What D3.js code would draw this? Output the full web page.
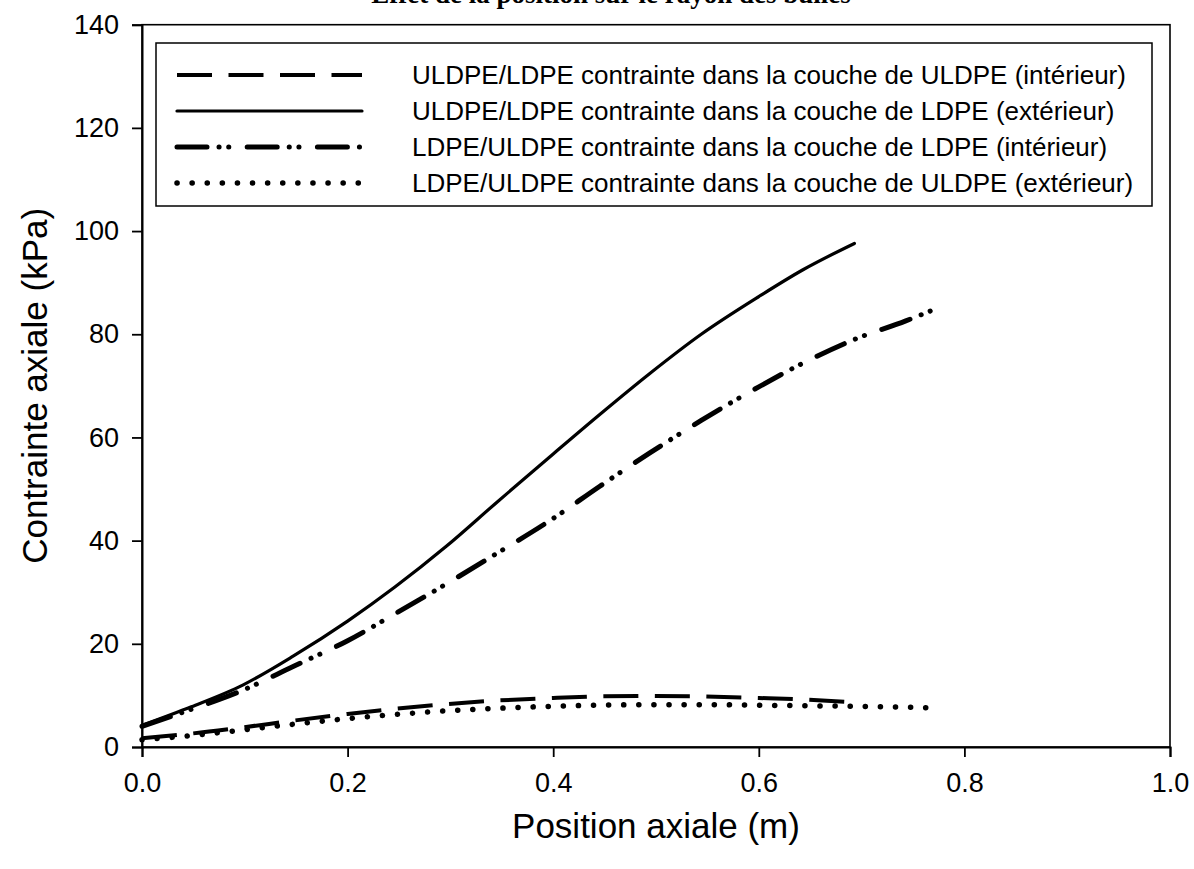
<!DOCTYPE html>
<html><head><meta charset="utf-8">
<script src="https://cdn.jsdelivr.net/npm/d3@7"></script>
<style>body{margin:0;background:#fff}svg{display:block}text{font-family:"Liberation Sans",Arial,sans-serif}</style>
</head><body><svg id="c" width="1194" height="869"></svg>
<script>
const title = "Effet de la position sur le rayon des bulles";
const xLabel = "Position axiale (m)";
const yLabel = "Contrainte axiale (kPa)";
const xTicks = [0, 0.2, 0.4, 0.6, 0.8, 1.0];
const yTicks = [0, 20, 40, 60, 80, 100, 120, 140];
const seriesNames = [
  "ULDPE/LDPE contrainte dans la couche de ULDPE (intérieur)",
  "ULDPE/LDPE contrainte dans la couche de LDPE (extérieur)",
  "LDPE/ULDPE contrainte dans la couche de LDPE (intérieur)",
  "LDPE/ULDPE contrainte dans la couche de ULDPE (extérieur)"
];
const xDashed = [0, 0.048, 0.098, 0.147, 0.2, 0.246, 0.296, 0.345, 0.4, 0.445, 0.494, 0.544, 0.6, 0.643, 0.688];
const yDashed = [1.7, 2.6, 3.8, 5.1, 6.4, 7.4, 8.3, 9.0, 9.5, 9.8, 9.9, 9.8, 9.5, 9.2, 8.7];
const xSolid = [0, 0.048, 0.098, 0.147, 0.2, 0.246, 0.296, 0.345, 0.4, 0.445, 0.494, 0.544, 0.6, 0.643, 0.693];
const ySolid = [4.2, 7.8, 12.0, 17.6, 24.4, 31.0, 38.9, 47.4, 56.8, 64.4, 72.4, 80.0, 87.3, 92.5, 97.6];
const xDashDot = [0, 0.048, 0.098, 0.147, 0.2, 0.246, 0.296, 0.345, 0.4, 0.445, 0.494, 0.544, 0.6, 0.643, 0.693, 0.743, 0.768];
const yDashDot = [4.0, 7.3, 11.0, 15.6, 20.6, 25.8, 31.6, 37.5, 44.3, 50.5, 57.0, 63.3, 69.8, 74.4, 79.0, 82.6, 84.6];
const xDotted = [0, 0.048, 0.098, 0.147, 0.2, 0.246, 0.296, 0.345, 0.4, 0.445, 0.494, 0.544, 0.6, 0.643, 0.693, 0.768];
const yDotted = [1.4, 2.2, 3.3, 4.4, 5.5, 6.3, 7.0, 7.5, 7.9, 8.1, 8.2, 8.2, 8.1, 8.0, 7.9, 7.6];

const styles = [
  {w: 4, dash: "35,16.5", cap: "butt"},
  {w: 3.2, dash: null, cap: "round"},
  {w: 5, dash: "30,12,0.1,9.6,0.1,18.4", cap: "round"},
  {w: 5.5, dash: "0.1,15", cap: "round"}
];
const series = [
  {xs: xDashed, ys: yDashed},
  {xs: xSolid, ys: ySolid},
  {xs: xDashDot, ys: yDashDot},
  {xs: xDotted, ys: yDotted}
];

const svg = d3.select("#c");
const x = d3.scaleLinear().domain([0, 1]).range([142, 1170]);
const y = d3.scaleLinear().domain([0, 140]).range([747, 24.7]);

// title (cut off at the top edge as in the original)
svg.append("text").attr("x", 611).attr("y", 3).attr("text-anchor", "middle")
  .style("font-family", "'Liberation Serif','Times New Roman',serif").style("font-weight", "bold")
  .style("font-size", "27px").text(title);

// frame
svg.append("rect").attr("x", x(0)).attr("y", y(140)).attr("width", x(1) - x(0)).attr("height", y(0) - y(140))
  .attr("fill", "none").attr("stroke", "#000").attr("stroke-width", 1.6);

const xAxis = svg.append("g").attr("transform", `translate(0,${y(0)})`)
  .call(d3.axisBottom(x).tickValues(xTicks).tickSize(10).tickPadding(16).tickFormat(d3.format(".1f")));
const yAxis = svg.append("g").attr("transform", `translate(${x(0)},0)`)
  .call(d3.axisLeft(y).tickValues(yTicks).tickSize(10).tickPadding(13).tickFormat(d3.format("d")));
[xAxis, yAxis].forEach(g => {
  g.select(".domain").attr("stroke-width", 2);
  g.selectAll(".tick line").attr("stroke-width", 1.8);
  g.selectAll("text").style("font-size", "27px").style("font-family", "'Liberation Sans',Arial,sans-serif").attr("fill", "#000");
});

svg.append("text").attr("x", (x(0) + x(1)) / 2).attr("y", 838).attr("text-anchor", "middle")
  .style("font-size", "35px").text(xLabel);
svg.append("text").attr("transform", `translate(47,${(y(0) + y(140)) / 2}) rotate(-90)`).attr("text-anchor", "middle")
  .style("font-size", "35px").text(yLabel);

const line = d3.line().curve(d3.curveMonotoneX);
series.forEach((s, i) => {
  const pts = s.xs.map((v, j) => [x(v), y(s.ys[j])]);
  const st = styles[i];
  svg.append("path").attr("d", line(pts)).attr("fill", "none").attr("stroke", "#000")
    .attr("stroke-width", st.w).attr("stroke-linecap", st.cap).attr("stroke-linejoin", "round")
    .attr("stroke-dasharray", st.dash);
});

// legend
svg.append("rect").attr("x", 156).attr("y", 43).attr("width", 996).attr("height", 163)
  .attr("fill", "#fff").attr("stroke", "#000").attr("stroke-width", 1.5);
const rowsY = [75, 111, 147, 183];
seriesNames.forEach((n, i) => {
  const st = styles[i];
  svg.append("path").attr("d", d3.line()([[177, rowsY[i]], [362, rowsY[i]]])).attr("fill", "none").attr("stroke", "#000")
    .attr("stroke-width", st.w).attr("stroke-linecap", st.cap).attr("stroke-dasharray", st.dash);
  svg.append("text").attr("x", 412).attr("y", rowsY[i]).attr("dy", "0.35em").style("font-size", "26px").text(n);
});
</script></body></html>
